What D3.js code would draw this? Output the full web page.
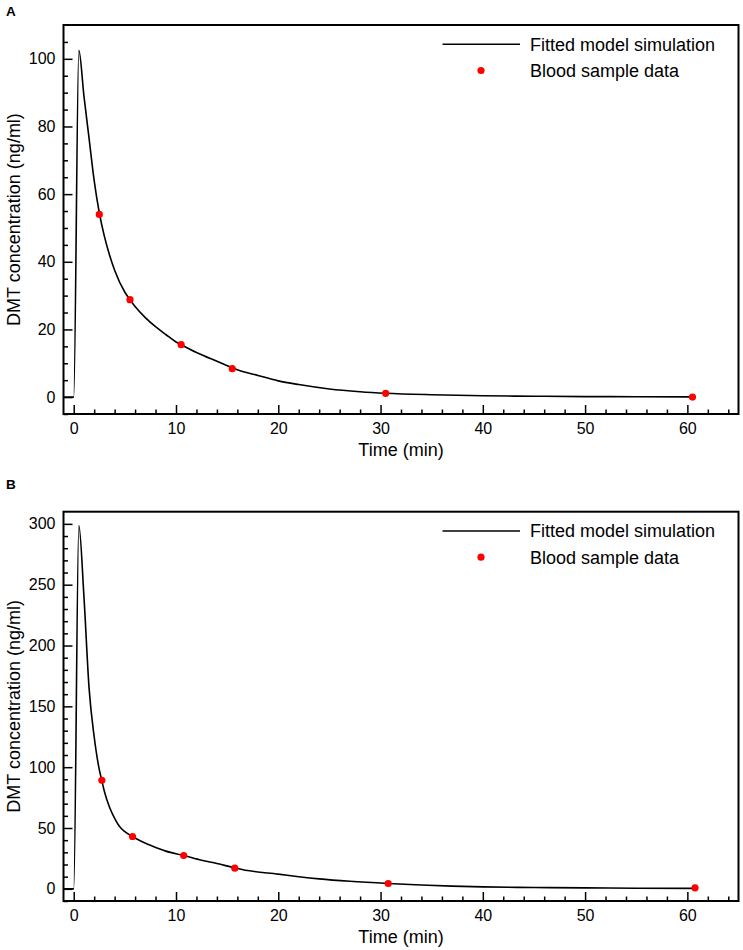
<!DOCTYPE html>
<html>
<head>
<meta charset="utf-8">
<script src="https://cdn.jsdelivr.net/npm/d3@7"></script>
<style>
  body { margin: 0; background: #fff; }
  svg { display: block; }
  text { font-family: "Liberation Sans", Arial, sans-serif; }
</style>
</head>
<body>
<svg id="chart" width="743" height="950"></svg>
<script>
// ---- Data ----
const curveA_t = [-1, 0, 0.5, 1, 1.5, 2, 2.5, 3, 3.5, 4, 5, 5.5, 6, 7, 8, 9, 10, 10.5, 12, 14, 16, 18, 20, 22, 25, 28, 30.5, 35, 40, 45, 50, 55, 60.5];
const curveA_y = [0, 0, 102.5, 89, 76.5, 64, 54.5, 47.5, 42, 37.5, 31, 28.8, 26.8, 23.5, 20.8, 18.5, 16.3, 15.5, 13.2, 10.6, 8.1, 6.4, 4.8, 3.7, 2.4, 1.6, 1.15, 0.7, 0.4, 0.25, 0.15, 0.1, 0.05];
const samplesA_t = [2.5, 5.5, 10.5, 15.5, 30.5, 60.5];
const samplesA_y = [54.0, 28.8, 15.5, 8.4, 1.1, 0.0];

const curveB_t = [-1, 0, 0.5, 1, 1.5, 2, 2.5, 2.75, 3, 3.5, 4, 4.5, 5, 5.75, 6.5, 7.5, 9, 10.75, 12.5, 14, 15.75, 17, 20, 22, 24, 27, 30.75, 34, 37, 40, 45, 50, 55, 60.75];
const curveB_y = [0, 0, 298.6, 240, 165, 125, 98, 89, 80, 67, 58, 51, 47, 43, 39.5, 35.8, 31, 27.4, 23.5, 20.8, 17.2, 15, 12.1, 10, 8.2, 6.2, 4.4, 3.2, 2.2, 1.6, 1.1, 0.8, 0.5, 0.35];
const samplesB_t = [2.75, 5.75, 10.75, 15.75, 30.75, 60.75];
const samplesB_y = [89.2, 43.0, 27.4, 17.0, 4.4, 0.8];

const xMajor = [0, 10, 20, 30, 40, 50, 60];
const yMajorA = [0, 20, 40, 60, 80, 100];
const yMajorB = [0, 50, 100, 150, 200, 250, 300];

const legendLabels = ["Fitted model simulation", "Blood sample data"];
const xTitle = "Time (min)";
const yTitle = "DMT concentration (ng/ml)";

// ---- Drawing ----
const svg = d3.select("#chart");
const left = 63.5, right = 738.5;

function panel(opts) {
  const { top, bottom, yDomain, yMajor, yMinorStep, curveT, curveY, sampT, sampY, label, labelY } = opts;
  const g = svg.append("g");
  const x = d3.scaleLinear().domain([-1, 65]).range([left, right]);
  const y = d3.scaleLinear().domain(yDomain).range([bottom, top]);

  const xMinor = d3.range(0, 65, 2).filter(v => !xMajor.includes(v));
  const yMinor = d3.range(Math.ceil(yDomain[0] / yMinorStep) * yMinorStep, yDomain[1], yMinorStep)
    .filter(v => !yMajor.includes(v) && v >= yDomain[0]);

  // minor ticks
  g.append("g").attr("transform", `translate(0,${bottom})`)
    .call(d3.axisBottom(x).tickValues(xMinor).tickSize(-4.5).tickSizeOuter(0).tickFormat(""))
    .call(s => s.select(".domain").remove());
  g.append("g").attr("transform", `translate(${left},0)`)
    .call(d3.axisLeft(y).tickValues(yMinor).tickSize(-4.5).tickSizeOuter(0).tickFormat(""))
    .call(s => s.select(".domain").remove());

  // major ticks
  g.append("g").attr("transform", `translate(0,${bottom})`)
    .call(d3.axisBottom(x).tickValues(xMajor).tickSize(-9).tickSizeOuter(0).tickPadding(9).tickFormat(d3.format("d")))
    .call(s => s.select(".domain").remove());
  g.append("g").attr("transform", `translate(${left},0)`)
    .call(d3.axisLeft(y).tickValues(yMajor).tickSize(-9).tickSizeOuter(0).tickPadding(8).tickFormat(d3.format("d")))
    .call(s => s.select(".domain").remove());

  g.selectAll(".tick line").attr("stroke", "#000").attr("stroke-width", 1.5);
  g.selectAll(".tick text").attr("font-size", 16).attr("fill", "#000")
    .attr("font-family", "'Liberation Sans', Arial, sans-serif");

  // frame
  g.append("rect").attr("x", left).attr("y", top)
    .attr("width", right - left).attr("height", bottom - top)
    .attr("fill", "none").attr("stroke", "#000").attr("stroke-width", 2);

  // curve
  const pts = curveT.map((t, i) => [t, curveY[i]]);
  g.append("path").datum(pts)
    .attr("d", d3.line().x(d => x(d[0])).y(d => y(d[1])).curve(d3.curveMonotoneX))
    .attr("fill", "none").attr("stroke", "#000").attr("stroke-width", 1.6);

  // samples
  g.selectAll("circle.s").data(sampT.map((t, i) => [t, sampY[i]])).join("circle")
    .attr("class", "s")
    .attr("cx", d => x(d[0])).attr("cy", d => y(d[1])).attr("r", 3.6)
    .attr("fill", "#ff0000");

  // legend
  const ly1 = top + 19.3, ly2 = top + 45.5;
  g.append("line").attr("x1", 442.5).attr("x2", 520).attr("y1", ly1).attr("y2", ly1)
    .attr("stroke", "#000").attr("stroke-width", 1.6);
  g.append("circle").attr("cx", 481).attr("cy", ly2).attr("r", 3.6).attr("fill", "#ff0000");
  g.append("text").attr("x", 530).attr("y", ly1).attr("dy", "0.35em")
    .attr("font-size", 18).text(legendLabels[0]);
  g.append("text").attr("x", 530).attr("y", ly2).attr("dy", "0.35em")
    .attr("font-size", 18).text(legendLabels[1]);

  // axis titles
  g.append("text").attr("x", (left + right) / 2).attr("y", bottom + 42)
    .attr("text-anchor", "middle").attr("font-size", 18).text(xTitle);
  g.append("text")
    .attr("transform", `translate(13.5,${(top + bottom) / 2}) rotate(-90)`)
    .attr("text-anchor", "middle").attr("dy", "0.35em")
    .attr("font-size", 18).text(yTitle);

  // panel label
  g.append("text").attr("x", 6).attr("y", labelY)
    .attr("font-size", 13.5).attr("font-weight", "bold").text(label);
}

panel({ top: 25, bottom: 414, yDomain: [-5, 110], yMajor: yMajorA, yMinorStep: 5,
  curveT: curveA_t, curveY: curveA_y, sampT: samplesA_t, sampY: samplesA_y, label: "A", labelY: 15.5 });
panel({ top: 511.7, bottom: 901, yDomain: [-10, 310], yMajor: yMajorB, yMinorStep: 10,
  curveT: curveB_t, curveY: curveB_y, sampT: samplesB_t, sampY: samplesB_y, label: "B", labelY: 488.5 });
</script>
</body>
</html>
